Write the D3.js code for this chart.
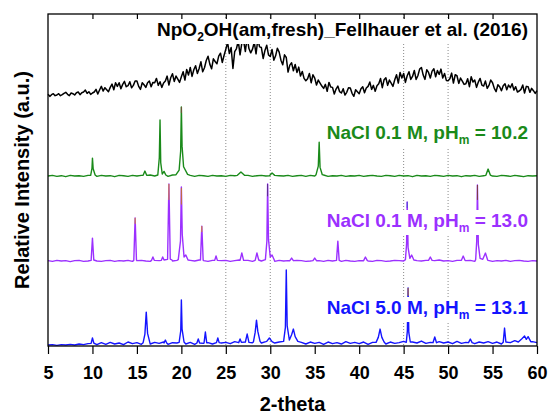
<!DOCTYPE html>
<html>
<head>
<meta charset="utf-8">
<script src="https://cdn.jsdelivr.net/npm/d3@7"></script>
<style>
  body { margin: 0; background: #fff; }
  text { font-family: "Liberation Sans", Arial, sans-serif; font-weight: bold; }
</style>
</head>
<body>
<svg id="chart" width="550" height="414"></svg>
<script>
// x axis ticks and dotted reference positions (2-theta)
const xTicks = [5, 10, 15, 20, 25, 30, 35, 40, 45, 50, 55, 60];
const refLines = [25, 30, 45, 50];

// vertical offsets of the stacked patterns (a.u.)
const offsets = { black: 75.6, green: 51.2, purple: 25.6, blue: 0.6 };

// amorphous pattern, 5..60 deg, step 0.2
const blackStart = 5, blackStep = 0.2;
const blackValues = [
  0.2,-0.4,0.1,0.4,-0.2,  0.0,0.4,-0.2,0.1,0.5,  0.8,0.2,-0.2,0.6,0.4,  0.0,0.7,0.9,0.1,0.7,
  0.9,1.5,0.5,1.0,0.2,  0.6,0.9,1.7,0.3,1.5,  2.6,1.2,2.2,1.6,1.0,  2.3,3.3,1.6,3.7,2.6,
  3.7,1.9,3.2,4.1,2.5,  2.8,4.0,2.2,2.9,4.2,  4.2,2.6,1.7,3.7,3.1,  2.3,3.7,4.2,2.5,3.8,
  3.7,5.0,2.9,4.0,2.3,  3.6,4.2,5.7,3.0,5.2,  6.4,4.1,5.7,4.8,3.8,  5.5,7.0,4.5,7.7,6.0,
  8.3,5.6,7.6,8.8,6.5,  8.0,10.0,7.0,8.2,10.4,  11.7,9.3,7.9,10.9,10.1,  9.4,11.7,12.6,9.8,11.9,
  13.8,15.8,12.5,14.3,8.0,  13.1,14.0,16.3,12.1,15.6,  16.3,13.1,17.5,14.0,12.7,  13.8,15.9,12.4,16.8,14.5,
  14.3,11.0,13.4,15.0,12.1,  11.6,13.7,10.5,11.8,14.1,  12.9,10.5,9.1,12.1,11.3,  6.9,9.0,9.7,7.3,9.2,
  6.8,8.4,5.7,7.1,5.0,  4.3,4.9,6.5,3.7,6.1,  5.1,3.0,4.5,3.6,2.7,  2.0,3.2,1.1,3.8,2.4,
  2.3,0.3,1.8,2.7,1.0,  0.6,1.9,0.0,0.8,2.2,  2.1,0.5,-0.4,1.6,1.0,  0.4,1.9,2.5,0.7,2.1,
  2.6,3.9,1.7,2.9,1.1,  2.8,3.4,5.0,2.2,4.6,  5.2,2.9,4.5,3.6,2.6,  4.6,6.1,3.6,6.8,5.1,
  6.5,3.8,5.8,7.0,4.7,  5.6,7.4,4.7,5.8,7.8,  8.3,6.0,4.7,7.6,6.8,  5.1,7.2,7.9,5.5,7.4,
  6.2,7.8,5.1,6.5,4.4,  4.3,4.9,6.6,3.6,6.1,  5.8,3.5,5.1,4.2,3.2,  3.4,4.9,2.5,5.5,3.9,
  4.5,2.3,3.9,5.0,3.0,  2.7,4.2,2.0,2.9,4.5,  3.7,2.0,1.0,3.1,2.5,  1.3,2.8,3.4,1.6,3.0,
  2.2,3.4,1.5,2.5,0.9,  1.2,1.7,3.0,0.6,2.6,  2.5,0.8,2.0,1.3,0.5,
  1.3
];

// crystalline patterns: baseline 5..60 deg, step 0.5, plus peaks
const baseStart = 5, baseStep = 0.5;
const greenBase = [
  0.0,0.2,-0.1,0.1,-0.2,0.2,0.0,0.1,-0.1,0.2,
  0.1,-0.1,0.2,0.0,0.1,-0.2,0.2,0.1,-0.1,0.2,
  0.0,0.2,-0.1,0.3,0.0,0.2,0.1,-0.1,0.3,0.1,
  0.3,0.0,0.2,-0.1,0.2,0.1,-0.1,0.2,0.0,0.1,
  -0.1,0.2,0.1,0.3,0.0,0.2,-0.1,0.1,0.2,0.0,
  0.2,-0.1,0.1,0.0,0.2,-0.1,0.1,0.2,-0.1,0.2,
  0.0,0.1,0.3,-0.1,0.1,0.0,0.2,-0.1,0.1,0.0,
  0.2,-0.1,0.1,0.2,0.0,-0.1,0.2,0.1,-0.1,0.2,
  0.0,0.1,-0.2,0.2,0.0,0.1,-0.1,0.2,0.1,-0.1,
  0.2,0.0,0.1,-0.2,0.1,0.0,0.2,-0.1,0.1,0.2,
  0.0,-0.1,0.2,0.1,-0.1,0.2,0.0,-0.2,0.1,0.0,
  0.1
];
const purpleBase = [
  0.1,-0.1,0.2,0.0,0.1,-0.2,0.1,0.2,-0.1,0.0,
  0.2,0.0,-0.1,0.1,0.2,-0.1,0.1,0.0,0.2,-0.1,
  0.1,0.2,0.0,-0.1,0.2,0.1,-0.2,0.1,0.0,0.2,
  -0.1,0.1,0.2,0.0,0.3,0.1,-0.1,0.2,0.0,0.1,
  0.2,-0.1,0.1,0.3,0.0,0.2,-0.1,0.1,0.0,0.2,
  0.1,-0.1,0.2,0.0,0.1,-0.2,0.2,0.1,-0.1,0.0,
  0.2,0.1,-0.1,0.2,0.0,0.1,-0.1,0.2,0.0,-0.1,
  0.1,0.2,0.0,-0.1,0.2,0.1,-0.1,0.0,0.2,0.1,
  0.0,-0.1,0.2,0.1,0.0,0.2,-0.1,0.1,0.3,0.0,
  0.1,-0.1,0.2,0.0,0.1,0.2,-0.1,0.1,0.0,0.2,
  -0.1,0.1,0.0,0.2,-0.1,0.1,0.2,0.0,-0.1,0.1,
  0.0
];
const blueBase = [
  -0.3,-0.2,-0.4,-0.2,-0.3,-0.1,-0.3,0.0,-0.2,0.1,
  0.2,-0.2,0.4,-0.1,0.5,0.0,0.3,-0.2,0.6,0.1,
  0.4,-0.1,0.7,0.0,0.5,0.2,0.6,-0.1,0.4,0.3,
  0.6,0.0,0.5,-0.1,0.7,0.2,0.4,0.0,0.8,0.3,
  0.5,0.1,0.7,0.2,0.6,0.9,0.4,0.8,0.3,0.7,
  0.9,0.3,0.6,0.8,0.2,0.7,0.1,0.5,0.0,0.6,
  0.2,0.5,-0.1,0.6,0.1,0.4,0.0,0.7,0.2,0.5,
  0.1,0.6,-0.1,0.5,0.3,0.7,0.0,0.6,0.2,0.4,
  0.8,0.1,0.6,0.3,0.9,0.2,0.5,0.0,0.7,0.3,
  0.6,0.1,0.8,0.2,0.5,0.9,0.1,0.6,0.3,0.7,
  0.2,0.6,0.0,0.8,0.4,1.0,0.5,0.9,0.3,0.7,
  0.4
];

const greenPeaks = [
  [[9.8,0.2],[9.95,2.4],[10.0,5.4],[10.08,2.2],[10.3,0.3]],
  [[15.7,0.2],[15.9,1.5],[16.1,0.2]],
  [[17.35,0.3],[17.52,5.5],[17.6,16.9],[17.68,4.0],[17.85,0.6],[18.05,1.4],[18.25,0.3]],
  [[19.4,0.4],[19.75,1.8],[19.92,7.5],[20.0,20.8],[20.08,9.0],[20.25,2.8],[20.7,0.5]],
  [[26.3,0.2],[26.7,1.2],[27.1,0.2]],
  [[29.9,0.1],[30.2,0.9],[30.5,0.2]],
  [[35.15,0.4],[35.4,3.0],[35.5,10.2],[35.6,2.6],[35.85,0.4]],
  [[54.25,0.2],[54.5,2.1],[54.75,0.3]]
];
const purplePeaks = [
  [[9.85,0.2],[10.0,6.9],[10.15,0.3]],
  [[14.65,0.2],[14.8,13.0],[14.95,0.3]],
  [[16.65,0.2],[16.8,1.2],[16.95,0.2]],
  [[17.75,0.2],[17.9,1.2],[18.05,0.3],[18.45,0.5],[18.6,23.2],[18.75,0.6],[18.95,0.3]],
  [[19.65,0.4],[19.9,6.0],[20.0,22.3],[20.1,8.0],[20.3,1.2],[20.5,1.8],[20.75,0.3]],
  [[22.15,0.3],[22.3,10.5],[22.45,0.3]],
  [[23.75,0.2],[23.9,1.5],[24.05,0.2]],
  [[26.6,0.2],[26.8,2.4],[27.0,0.2]],
  [[28.3,0.2],[28.5,2.4],[28.7,0.3]],
  [[29.45,0.4],[29.62,6.0],[29.7,23.2],[29.8,6.5],[30.0,1.2],[30.2,1.8],[30.45,0.3]],
  [[32.2,0.1],[32.4,0.9],[32.6,0.1]],
  [[34.8,0.1],[35.0,0.9],[35.2,0.1]],
  [[37.45,0.2],[37.6,6.0],[37.75,0.2]],
  [[40.5,0.1],[40.7,1.2],[40.9,0.2]],
  [[45.2,0.4],[45.33,5.0],[45.4,17.8],[45.5,4.0],[45.7,0.8],[45.9,1.8],[46.15,0.3]],
  [[47.8,0.2],[48.0,1.2],[48.2,0.2]],
  [[51.5,0.2],[51.7,1.5],[51.9,0.2]],
  [[53.1,0.4],[53.22,6.0],[53.3,22.9],[53.4,5.0],[53.6,0.8],[53.9,0.5],[54.2,2.4],[54.45,0.3]]
];
const bluePeaks = [
  [[9.85,0.2],[10.0,1.8],[10.15,0.3]],
  [[15.7,0.4],[15.9,3.0],[16.05,9.6],[16.2,3.2],[16.45,0.5]],
  [[18.05,0.3],[18.2,1.2],[18.35,0.3]],
  [[19.75,0.5],[19.93,4.0],[20.0,13.3],[20.08,4.5],[20.3,0.6]],
  [[21.75,0.3],[21.9,1.5],[22.05,0.3]],
  [[22.55,0.3],[22.7,3.6],[22.85,0.4]],
  [[23.95,0.4],[24.1,1.8],[24.25,0.4]],
  [[26.45,0.4],[26.6,1.5],[26.75,0.5],[27.2,0.6],[27.4,3.0],[27.6,0.5]],
  [[28.1,0.6],[28.3,3.5],[28.45,7.2],[28.6,3.8],[28.85,0.8]],
  [[29.6,0.8],[29.9,1.8],[30.2,0.7]],
  [[31.5,0.8],[31.7,5.0],[31.8,22.3],[31.9,5.5],[32.15,1.2],[32.4,2.8],[32.6,4.5],[32.8,2.2],[33.1,0.8]],
  [[41.9,0.5],[42.15,2.0],[42.35,4.5],[42.55,2.0],[42.8,0.6]],
  [[45.3,0.5],[45.42,4.0],[45.5,16.9],[45.58,3.5],[45.75,0.6]],
  [[48.3,0.4],[48.5,2.1],[48.7,0.4]],
  [[52.3,0.4],[52.5,1.5],[52.7,0.4]],
  [[56.2,0.5],[56.35,4.8],[56.5,0.6]],
  [[57.9,0.6],[58.3,1.6],[58.6,2.4],[58.8,1.4],[59.0,2.2],[59.3,0.7]]
];

// short coloured reference sticks on top of some peaks: [series, 2theta, from, to, colour]
const sticks = [
  ['green', 20.0, 19.0, 20.8, '#7a4a3a'],
  ['purple', 14.8, 11.2, 13.0, '#d98a2a'],
  ['purple', 18.6, 18.4, 23.2, '#d98a2a'],
  ['purple', 20.0, 17.0, 22.0, '#c8702a'],
  ['purple', 22.3, 8.7, 10.5, '#d98a2a'],
  ['purple', 29.7, 19.5, 23.2, '#5a2a8a'],
  ['purple', 45.4, 16.0, 17.8, '#4a4ad0'],
  ['purple', 53.3, 18.4, 22.9, '#7a3a3a'],
  ['blue', 45.5, 14.5, 16.9, '#c8781e']
];

const seriesLabels = [
  { key: 'green', text: 'NaCl 0.1 M, pH', sub: 'm', tail: ' = 10.2', y: 139 },
  { key: 'purple', text: 'NaCl 0.1 M, pH', sub: 'm', tail: ' = 13.0', y: 227 },
  { key: 'blue', text: 'NaCl 5.0 M, pH', sub: 'm', tail: ' = 13.1', y: 314 }
];
const colors = { black: '#000000', green: '#1a8a1a', purple: '#9b30ff', blue: '#1414ff' };

const svg = d3.select('#chart');
const margin = { top: 14, right: 13, bottom: 68, left: 48 };
const width = 550 - margin.left - margin.right;
const height = 414 - margin.top - margin.bottom;
const g = svg.append('g').attr('transform', `translate(${margin.left},${margin.top})`);

const x = d3.scaleLinear().domain([5, 60]).range([0, width]);
const y = d3.scaleLinear().domain([0, 100]).range([height, 0]);

// dotted reference lines
g.selectAll('.ref').data(refLines).enter().append('line')
  .attr('x1', d => x(d)).attr('x2', d => x(d))
  .attr('y1', 0).attr('y2', height)
  .attr('stroke', '#8a8a8a').attr('stroke-width', 1)
  .attr('stroke-dasharray', '1,2');

function buildSeries(base, peaks) {
  const pts = [];
  base.forEach((v, i) => {
    const t = baseStart + i * baseStep;
    const inside = peaks.some(p => t >= p[0][0] && t <= p[p.length - 1][0]);
    if (!inside) pts.push([t, v]);
  });
  peaks.forEach(p => p.forEach(q => pts.push(q)));
  return pts.sort((a, b) => a[0] - b[0]);
}

const seriesData = {
  black: blackValues.map((v, i) => [blackStart + i * blackStep, v]),
  green: buildSeries(greenBase, greenPeaks),
  purple: buildSeries(purpleBase, purplePeaks),
  blue: buildSeries(blueBase, bluePeaks)
};

['black', 'green', 'purple', 'blue'].forEach(key => {
  const line = d3.line()
    .x(d => x(d[0]))
    .y(d => y(d[1] + offsets[key]));
  g.append('path')
    .datum(seriesData[key])
    .attr('fill', 'none')
    .attr('stroke', colors[key])
    .attr('stroke-width', key === 'black' ? 1.5 : 1.4)
    .attr('stroke-linejoin', 'round')
    .attr('d', line);
});

g.selectAll('.stick').data(sticks).enter().append('line')
  .attr('x1', d => x(d[1])).attr('x2', d => x(d[1]))
  .attr('y1', d => y(d[2] + offsets[d[0]])).attr('y2', d => y(d[3] + offsets[d[0]]))
  .attr('stroke', d => d[4]).attr('stroke-width', 1);

// labels with white background
function boxedLabel(parts, yBase, color) {
  const grp = g.append('g');
  const rect = grp.append('rect').attr('fill', '#fff');
  const t = grp.append('text')
    .attr('x', 528 - margin.left).attr('y', yBase - margin.top)
    .attr('text-anchor', 'end')
    .style('font-size', '19px')
    .attr('fill', color);
  t.append('tspan').text(parts[0]);
  t.append('tspan').text(parts[1]).style('font-size', '12px').attr('dy', 5);
  t.append('tspan').text(parts[2]).attr('dy', -5);
  const bb = t.node().getBBox();
  rect.attr('x', bb.x - 1).attr('y', bb.y).attr('width', bb.width + 2).attr('height', bb.height);
}

boxedLabel(['NpO', '2', 'OH(am,fresh)_Fellhauer et al. (2016)'], 36, '#000');
seriesLabels.forEach(l => boxedLabel([l.text, l.sub, l.tail], l.y, colors[l.key]));

// axes
const xAxis = g.append('g')
  .attr('transform', `translate(0,${height})`)
  .call(d3.axisBottom(x).tickValues(xTicks).tickSize(8).tickPadding(12).tickSizeOuter(0));
xAxis.select('.domain').remove();
xAxis.selectAll('line').attr('stroke', '#000').attr('stroke-width', 1.2);
xAxis.selectAll('text').style('font-size', '18px').attr('fill', '#000');

const topAxis = g.append('g')
  .call(d3.axisTop(x).tickValues(xTicks.slice(1, -1)).tickSize(-5).tickFormat(''));
topAxis.select('.domain').remove();
topAxis.selectAll('line').attr('stroke', '#000').attr('stroke-width', 1.2);

g.append('rect')
  .attr('width', width).attr('height', height)
  .attr('fill', 'none').attr('stroke', '#000').attr('stroke-width', 1.3);

svg.append('text')
  .attr('x', margin.left + width / 2).attr('y', 411)
  .attr('text-anchor', 'middle')
  .style('font-size', '20px')
  .text('2-theta');

svg.append('text')
  .attr('transform', `translate(29,${margin.top + height / 2}) rotate(-90)`)
  .attr('text-anchor', 'middle')
  .style('font-size', '20px')
  .text('Relative Intensity (a.u.)');
</script>
</body>
</html>
